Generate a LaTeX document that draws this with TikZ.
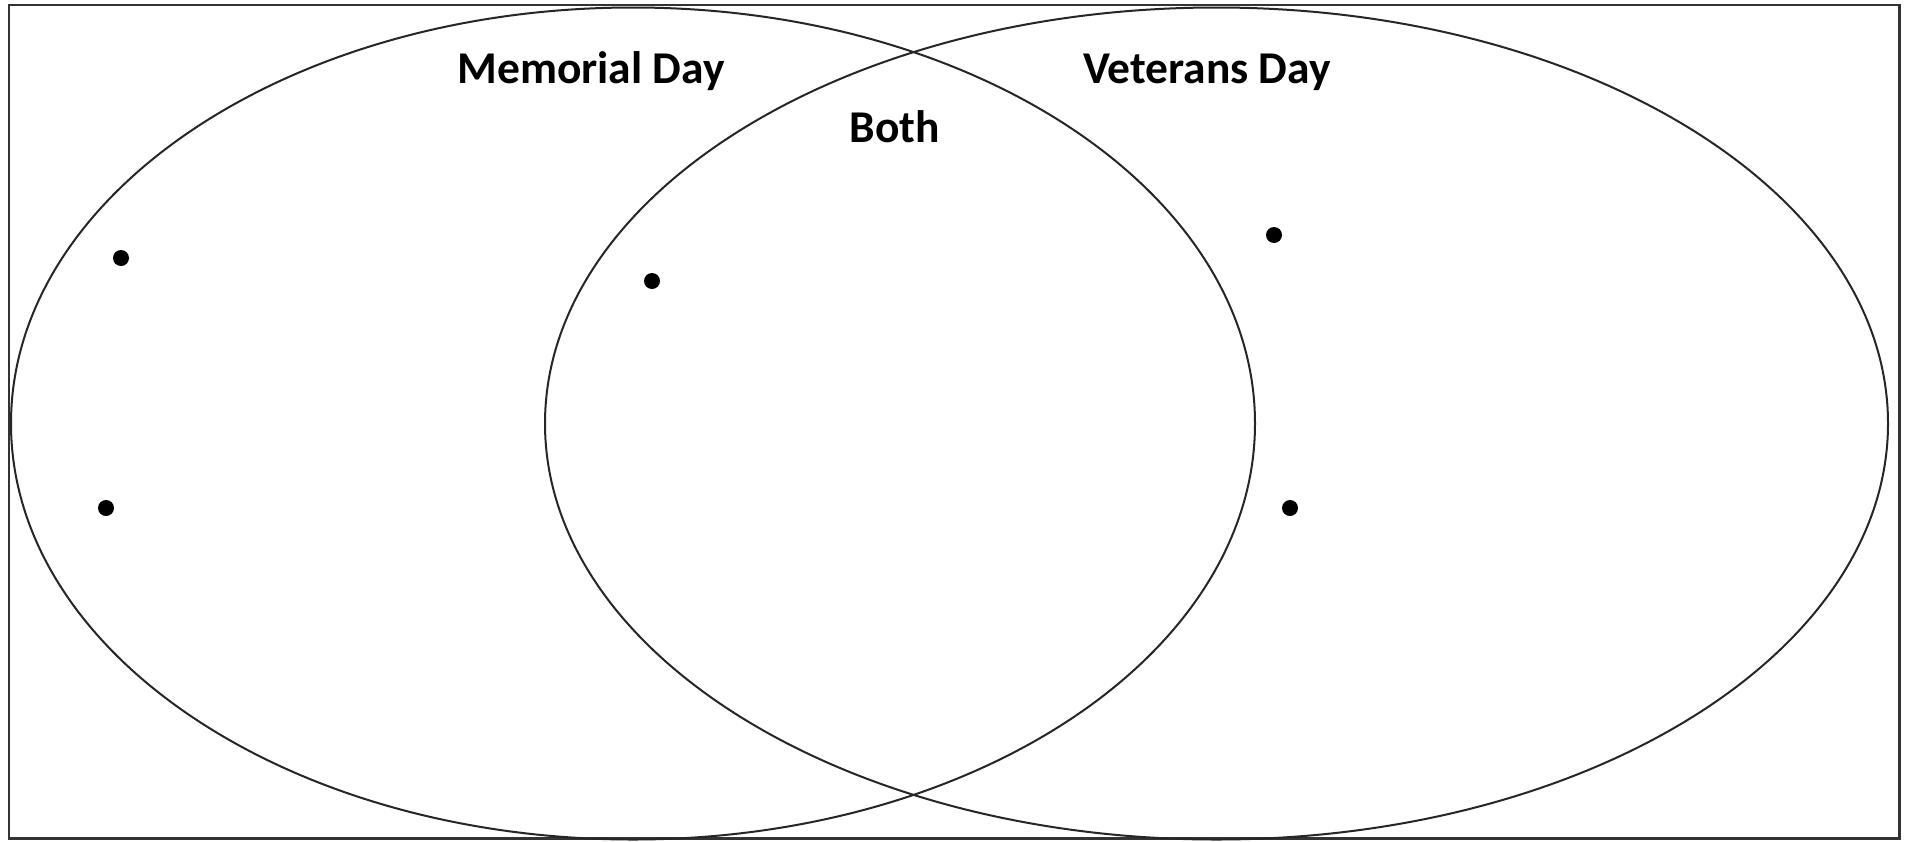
\documentclass[tikz,border=0pt]{standalone}
\usepackage{fontspec}
\setmainfont{Carlito}
\begin{document}
\begin{tikzpicture}[x=1pt,y=-1pt,
  frame/.style={draw=black!80,line width=2.6pt},
  setline/.style={draw=black!85,line width=2pt},
  lbl/.style={anchor=base,inner sep=0pt,font=\fontsize{45.5}{50}\selectfont\bfseries},
  dot/.style={circle,fill=black,inner sep=0pt,minimum size=16pt}]
\useasboundingbox (0,0) rectangle (1908,841);
\draw[frame] (9,5) rectangle (1899.5,838.5);
\draw[setline] (633,423.5) ellipse [x radius=622pt, y radius=416pt];
\draw[setline] (1216.5,423.5) ellipse [x radius=671.5pt, y radius=416pt];
\node[lbl] (mem) at (591,83) {Memorial Day};
\node[lbl] (vet) at (1207,83) {Veterans Day};
\node[lbl] (both) at (895,142) {Both};
\node[dot] (d1) at (121,258) {};
\node[dot] (d2) at (106,508) {};
\node[dot] (d3) at (652,281) {};
\node[dot] (d4) at (1274,235) {};
\node[dot] (d5) at (1290,508) {};
\end{tikzpicture}
\end{document}
